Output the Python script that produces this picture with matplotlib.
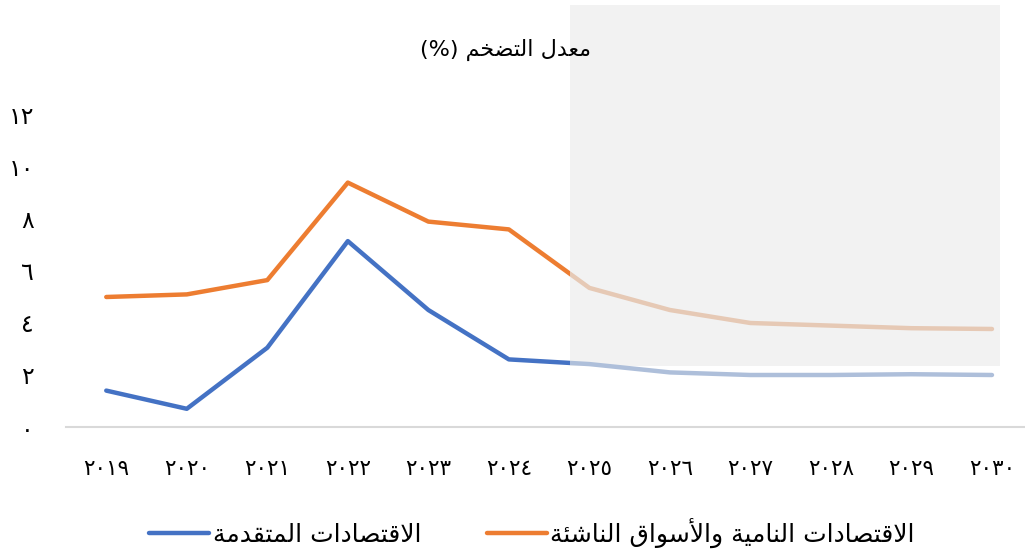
import matplotlib
matplotlib.use("Agg")
import matplotlib.pyplot as plt
from matplotlib.patches import Rectangle
from matplotlib.transforms import Bbox, TransformedBbox

plt.rcParams['font.family'] = ['DejaVu Sans']

# --- data ---
years = [2019, 2020, 2021, 2022, 2023, 2024, 2025, 2026, 2027, 2028, 2029, 2030]
emde = [5.0, 5.1, 5.65, 9.4, 7.9, 7.6, 5.35, 4.5, 4.0, 3.9, 3.8, 3.77]
advanced = [1.4, 0.7, 3.05, 7.15, 4.5, 2.6, 2.42, 2.1, 2.0, 2.0, 2.03, 2.0]
yticks = [0, 2, 4, 6, 8, 10, 12]

title_ar = "معدل التضخم"
label_adv = "الاقتصادات المتقدمة"
label_emde = "الاقتصادات النامية والأسواق الناشئة"

BLUE, BLUE_PALE = '#4472C4', '#aebfda'
ORANGE, ORANGE_PALE = '#ED7D31', '#e6c9b5'

# minimal arabic shaping (iso, fin, ini, med); None = no joining to the next letter
FORMS = {
    'ا': ('\uFE8D', '\uFE8E', None, None),
    'أ': ('\uFE83', '\uFE84', None, None),
    'ة': ('\uFE93', '\uFE94', None, None),
    'د': ('\uFEA9', '\uFEAA', None, None),
    'و': ('\uFEED', '\uFEEE', None, None),
    'ت': ('\uFE95', '\uFE96', '\uFE97', '\uFE98'),
    'خ': ('\uFEA5', '\uFEA6', '\uFEA7', '\uFEA8'),
    'س': ('\uFEB1', '\uFEB2', '\uFEB3', '\uFEB4'),
    'ش': ('\uFEB5', '\uFEB6', '\uFEB7', '\uFEB8'),
    'ص': ('\uFEB9', '\uFEBA', '\uFEBB', '\uFEBC'),
    'ض': ('\uFEBD', '\uFEBE', '\uFEBF', '\uFEC0'),
    'ع': ('\uFEC9', '\uFECA', '\uFECB', '\uFECC'),
    'ق': ('\uFED5', '\uFED6', '\uFED7', '\uFED8'),
    'ل': ('\uFEDD', '\uFEDE', '\uFEDF', '\uFEE0'),
    'م': ('\uFEE1', '\uFEE2', '\uFEE3', '\uFEE4'),
    'ن': ('\uFEE5', '\uFEE6', '\uFEE7', '\uFEE8'),
    'ي': ('\uFEF1', '\uFEF2', '\uFEF3', '\uFEF4'),
    'ئ': ('\uFE89', '\uFE8A', '\uFE8B', '\uFE8C'),
}
LAM_ALEF = {'ا': ('\uFEFB', '\uFEFC'), 'أ': ('\uFEF7', '\uFEF8')}


def shape(text):
    out = []
    prev_joins = False
    i = 0
    while i < len(text):
        c = text[i]
        if c not in FORMS:
            out.append(c)
            prev_joins = False
            i += 1
            continue
        if c == 'ل' and i + 1 < len(text) and text[i + 1] in LAM_ALEF:
            iso, fin = LAM_ALEF[text[i + 1]]
            out.append(fin if prev_joins else iso)
            prev_joins = False
            i += 2
            continue
        iso, fin, ini, med = FORMS[c]
        nxt = text[i + 1] if i + 1 < len(text) else None
        can_next = ini is not None and nxt in FORMS
        if prev_joins and can_next:
            out.append(med)
        elif prev_joins:
            out.append(fin)
        elif can_next:
            out.append(ini)
        else:
            out.append(iso)
        prev_joins = ini is not None
        i += 1
    return ''.join(out)


def rtl(text):
    return shape(text)[::-1]


AR_DIGITS = str.maketrans('0123456789', '٠١٢٣٤٥٦٧٨٩')


def ar_num(v):
    return str(v).translate(AR_DIGITS)


fig = plt.figure(figsize=(10.25, 5.58), dpi=100)
W, H = 1025, 558
ax = fig.add_axes([66 / W, 1 - 427 / H, (1025 - 66) / W, (427 - 115) / H])
ax.patch.set_alpha(0)

# shaded projection area (behind the lines)
ax.add_patch(Rectangle((570 / W, 1 - 366 / H), 430 / W, 361 / H,
                       transform=fig.transFigure, facecolor='#f2f2f2',
                       edgecolor='none', zorder=0, clip_on=False))

split = 570 / W
left_clip = TransformedBbox(Bbox([[0, 0], [split, 1]]), fig.transFigure)
right_clip = TransformedBbox(Bbox([[split, 0], [1, 1]]), fig.transFigure)

handles = {}
for vals, col, pale, key in [(advanced, BLUE, BLUE_PALE, 'adv'), (emde, ORANGE, ORANGE_PALE, 'emde')]:
    l1, = ax.plot(years, vals, color=col, lw=3.2, solid_capstyle='round',
                  solid_joinstyle='round', zorder=3)
    l1.set_clip_box(left_clip)
    l2, = ax.plot(years, vals, color=pale, lw=3.2, solid_capstyle='round',
                  solid_joinstyle='round', zorder=3)
    l2.set_clip_box(right_clip)
    handles[key] = l1

ax.set_xlim(2018.5, 2030.41)
ax.set_ylim(0, 12)
ax.set_xticks(years)
ax.set_xticklabels([ar_num(y) for y in years], fontsize=15.5)
ax.set_yticks(yticks)
ax.set_yticklabels([ar_num(v) for v in yticks], fontsize=17)
ax.tick_params(axis='both', length=0)
ax.tick_params(axis='x', pad=23)
ax.tick_params(axis='y', pad=23)
for s in ['top', 'right', 'left']:
    ax.spines[s].set_visible(False)
ax.spines['bottom'].set_color('#d9d9d9')
ax.spines['bottom'].set_linewidth(1.5)

fig.text(505 / W, 1 - 50 / H, '(%) ' + rtl(title_ar), ha='center', va='center', fontsize=16)

fig.legend([handles['adv'], handles['emde']], [rtl(label_adv), rtl(label_emde)],
           loc='center', bbox_to_anchor=(532 / W, 1 - 533 / H), ncol=2, frameon=False,
           fontsize=18, handlelength=2.4, handletextpad=0.15, columnspacing=2.6)

fig.savefig('out.png', dpi=100)
